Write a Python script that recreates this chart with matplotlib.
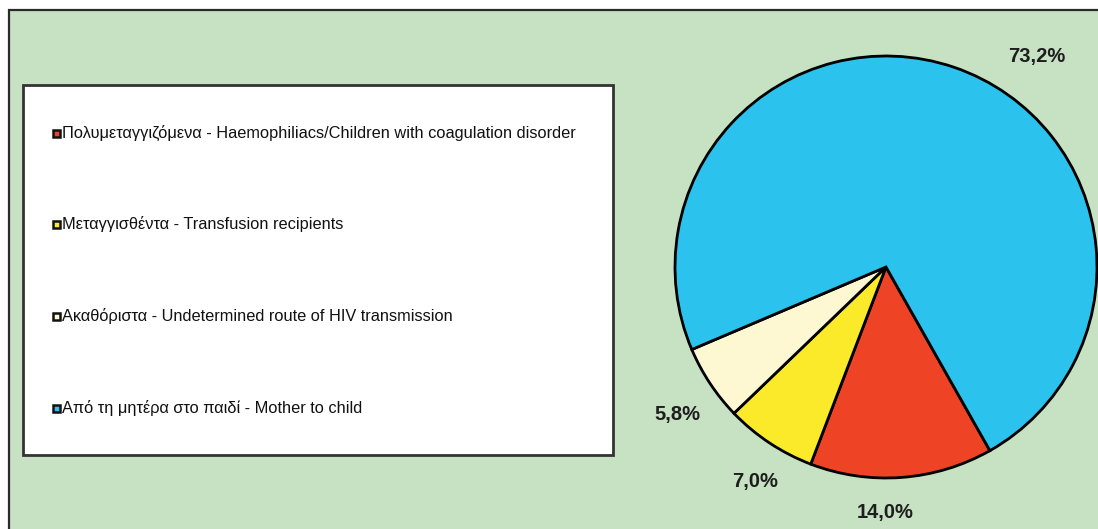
import numpy as np
import matplotlib.pyplot as plt
from matplotlib.patches import Rectangle

plt.rcParams['font.family'] = ['Liberation Sans', 'DejaVu Sans']

# HIV cases in children by route of transmission (%)
categories = [
    "Πολυμεταγγιζόμενα - Haemophiliacs/Children with coagulation disorder",
    "Μεταγγισθέντα - Transfusion recipients",
    "Ακαθόριστα - Undetermined route of HIV transmission",
    "Από τη μητέρα στο παιδί - Mother to child",
]
shares = [14.0, 7.0, 5.8, 73.2]
colors = ["#EE4324", "#FBEA2A", "#FEF8D2", "#2BC2EE"]

W, H = 1098, 529
BG = "#C6E2C2"

fig = plt.figure(figsize=(W / 100, H / 100), dpi=100)
fig.patch.set_facecolor("white")


def px(x, y):
    # pixel coords (top-left origin) -> figure fraction
    return x / W, 1 - y / H


# green chart area, its right and bottom edges run off the figure
x0, y0 = px(9, 10)
fig.patches.append(Rectangle((x0, -0.1), 1.2, y0 + 0.1, transform=fig.transFigure,
                             facecolor=BG, edgecolor="#2a2a2a", linewidth=1.6, zorder=-2))

# legend box
lx, ly = px(23, 455)
lw, lh = (613 - 23) / W, (455 - 85) / H
fig.patches.append(Rectangle((lx, ly), lw, lh, transform=fig.transFigure,
                             facecolor="white", edgecolor="#333333", linewidth=2, zorder=1))

row_y = [133, 224, 316, 408]
for name, col, yy in zip(categories, colors, row_y):
    mx, my = px(53, yy + 4)
    fig.patches.append(Rectangle((mx, my), 7 / W, 7 / H, transform=fig.transFigure,
                                 facecolor=col, edgecolor="#111111", linewidth=1.8, zorder=2))
    tx, ty = px(62, yy)
    fig.text(tx, ty, name, fontsize=11.8, color="#111111", ha="left", va="center", zorder=3)

# pie axes: centre (886, 267), radius 211 px
cx, cy, r = 886, 267, 211
ax = fig.add_axes([(cx - r) / W, (H - cy - r) / H, 2 * r / W, 2 * r / H])
ax.set_zorder(5)
ax.set_facecolor("none")
ax.axis("off")

pct_labels = [f"{v:.1f}%".replace(".", ",") for v in shares]
wedges, texts = ax.pie(shares, colors=colors, startangle=-60.5, counterclock=False,
                       wedgeprops=dict(edgecolor="black", linewidth=2))

# percentage labels: angle nudge (deg) and distance from centre (radii)
label_nudge = [-4.4, 2.0, 1.9, -16.9]
label_dist = [1.165, 1.19, 1.21, 1.23]
for w, lab, dang, dist in zip(wedges, pct_labels, label_nudge, label_dist):
    ang = np.deg2rad((w.theta1 + w.theta2) / 2 + dang)
    ax.text(dist * np.cos(ang), dist * np.sin(ang), lab, ha="center", va="center",
            fontsize=14.5, fontweight="bold", color="#1e1e1e", clip_on=False)

ax.set_xlim(-1, 1)
ax.set_ylim(-1, 1)
ax.set_aspect("equal")

fig.savefig("out.png", dpi=100, facecolor=fig.get_facecolor())
